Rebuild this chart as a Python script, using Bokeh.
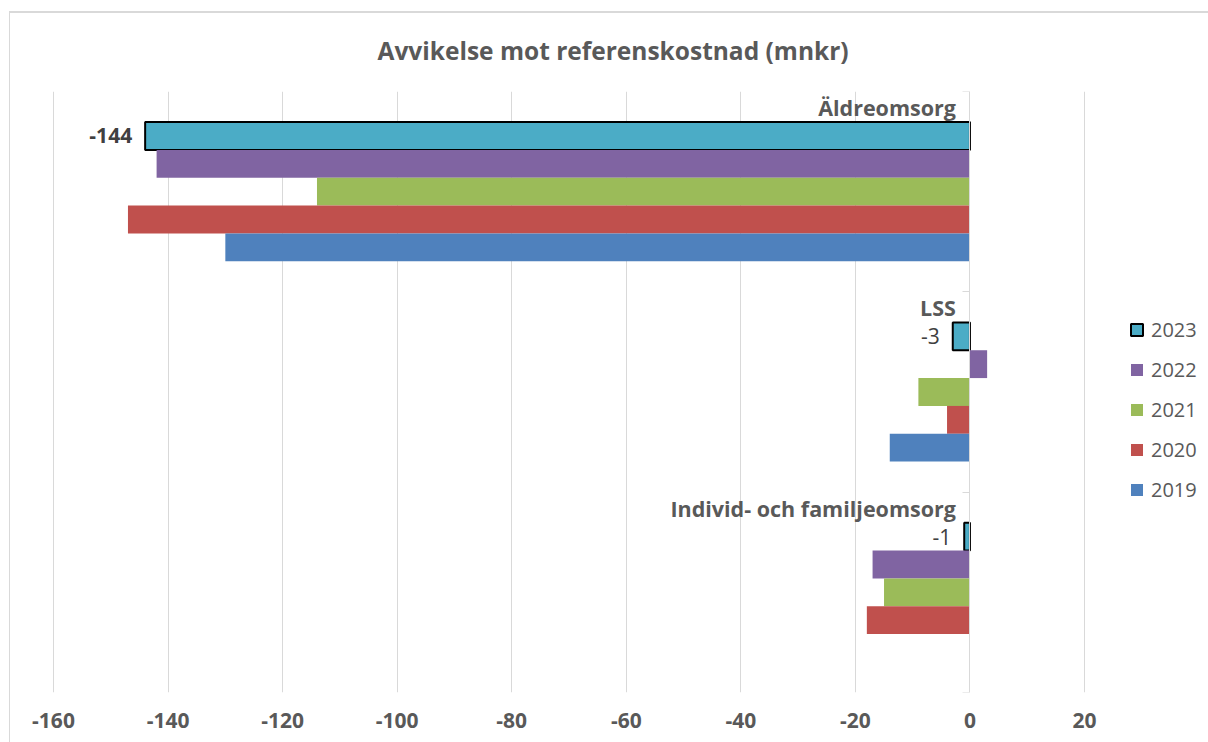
import numpy as np
from bokeh.plotting import figure
from bokeh.models import ColumnDataSource, Range1d, FixedTicker, Legend, LegendItem
from bokeh.core.properties import value
from bokeh.embed import file_html
from bokeh.resources import INLINE

# ---- data ----
categories = ["Äldreomsorg", "LSS", "Individ- och familjeomsorg"]
years = ["2023", "2022", "2021", "2020", "2019"]
v2023 = [-144, -3, -1]
v2022 = [-142, 3, -17]
v2021 = [-114, -9, -15]
v2020 = [-147, -4, -18]
v2019 = [-130, -14, np.nan]
series = [v2023, v2022, v2021, v2020, v2019]
colors = ["#4BACC6", "#8064A2", "#9BBB59", "#C0504D", "#4F81BD"]
x_ticks = [-160, -140, -120, -100, -80, -60, -40, -20, 0, 20]
title_text = "Avvikelse mot referenskostnad (mnkr)"

FONT = "Open Sans"
GRAY = "#595959"
GRID = "#d9d9d9"

# ---- layout (pixels) ----
W, H = 1208, 742
AXIS_L, AXIS_R = 53, 1084     # pixels of the first (-160) and last (20) tick
FRAME_T, FRAME_B = 91, 692
px_per_unit = (AXIS_R - AXIS_L) / (x_ticks[-1] - x_ticks[0])
x_start = x_ticks[0] - 1.0 / px_per_unit          # 1px so the -160 grid line shows
x_end = x_ticks[0] + (W - AXIS_L) / px_per_unit    # frame reaches the right edge (legend inside)
FRAME_L = AXIS_L - 1

n = len(categories)
ycenter = n - 0.5 - np.arange(n)          # first category on top
bar_h = 0.139
y_ticks = list(np.arange(n + 1))

p = figure(width=W, height=H, output_backend="svg", toolbar_location=None,
           x_range=Range1d(x_start, x_end), y_range=Range1d(0, n),
           min_border_left=FRAME_L, min_border_right=0, min_border_top=FRAME_T,
           min_border_bottom=H - FRAME_B)
p.outline_line_color = None
p.background_fill_color = "white"
p.border_fill_color = None
p.styles = {
    "background": ("linear-gradient(#d9d9d9,#d9d9d9) 9px 12px / 1px 100% no-repeat, "
                   "linear-gradient(#d9d9d9,#d9d9d9) 9px 11px / 100% 2px no-repeat, white"),
}

# title
p.title.text = title_text
p.title.align = "left"
p.title.offset = 325
p.title.standoff = 50
p.title.text_font = FONT
p.title.text_font_size = "24.5px"
p.title.text_font_style = "bold"
p.title.text_color = GRAY

# grid
p.xgrid.ticker = FixedTicker(ticks=x_ticks)
p.xgrid.grid_line_color = GRID
p.xgrid.grid_line_width = 1
p.ygrid.visible = False

# x axis
p.xaxis.ticker = FixedTicker(ticks=x_ticks)
p.xaxis.major_label_overrides = {t: str(t) for t in x_ticks}
p.xaxis.axis_line_color = None
p.xaxis.major_tick_line_color = None
p.xaxis.minor_tick_line_color = None
p.xaxis.major_tick_out = 0
p.xaxis.major_tick_in = 0
p.xaxis.major_label_standoff = 20
p.xaxis.major_label_text_font = FONT
p.xaxis.major_label_text_font_size = "21px"
p.xaxis.major_label_text_font_style = "bold"
p.xaxis.major_label_text_color = GRAY

# y axis at x = 0 with ticks on category boundaries (no tick labels)
p.yaxis.fixed_location = 0
p.yaxis.ticker = FixedTicker(ticks=y_ticks)
p.yaxis.major_label_overrides = {float(t): "" for t in y_ticks}
p.yaxis.axis_line_color = GRID
p.yaxis.major_tick_line_color = GRID
p.yaxis.major_tick_in = 0
p.yaxis.major_tick_out = 7
p.yaxis.minor_tick_line_color = None
p.yaxis.major_label_text_font = FONT

# bars
items = []
for i, (yr, vals, col) in enumerate(zip(years, series, colors)):
    offset = (2 - i) * bar_h
    src = ColumnDataSource(dict(y=ycenter + offset, v=vals))
    if i == 0:
        r = p.hbar(y="y", left=0, right="v", height=bar_h, source=src,
                   fill_color=col, line_color="black", line_width=2)
    else:
        r = p.hbar(y="y", left=0, right="v", height=bar_h, source=src,
                   fill_color=col, line_color=None)
    items.append(LegendItem(label=yr, renderers=[r]))

# data labels for 2023
lab_src = ColumnDataSource(dict(
    x=v2023, y=ycenter + 2 * bar_h,
    t=[str(int(v)) for v in v2023],
    style=["bold" if abs(v) >= 100 else "normal" for v in v2023]))
p.text(x="x", y="y", text="t", source=lab_src, x_offset=-13,
       text_align="right", text_baseline="middle",
       text_font=value(FONT), text_font_size="21px",
       text_font_style="style", text_color="#404040")

# category labels
cat_src = ColumnDataSource(dict(x=[0] * n, y=ycenter + 0.42, t=categories))
p.text(x="x", y="y", text="t", source=cat_src, x_offset=-14,
       text_align="right", text_baseline="middle",
       text_font=value(FONT), text_font_size="21.5px",
       text_font_style="bold", text_color=GRAY)

# legend (inside the extended frame, right of the last grid line)
legend = Legend(items=items, location=(1077, 189), orientation="vertical",
                glyph_width=15, glyph_height=15, label_standoff=7,
                label_height=20, spacing=13, padding=0, margin=0,
                border_line_color=None, background_fill_alpha=0,
                label_text_font=FONT, label_text_font_size="20px",
                label_text_color=GRAY)
p.add_layout(legend, "center")

open("out.html", "w").write(file_html(p, INLINE))
